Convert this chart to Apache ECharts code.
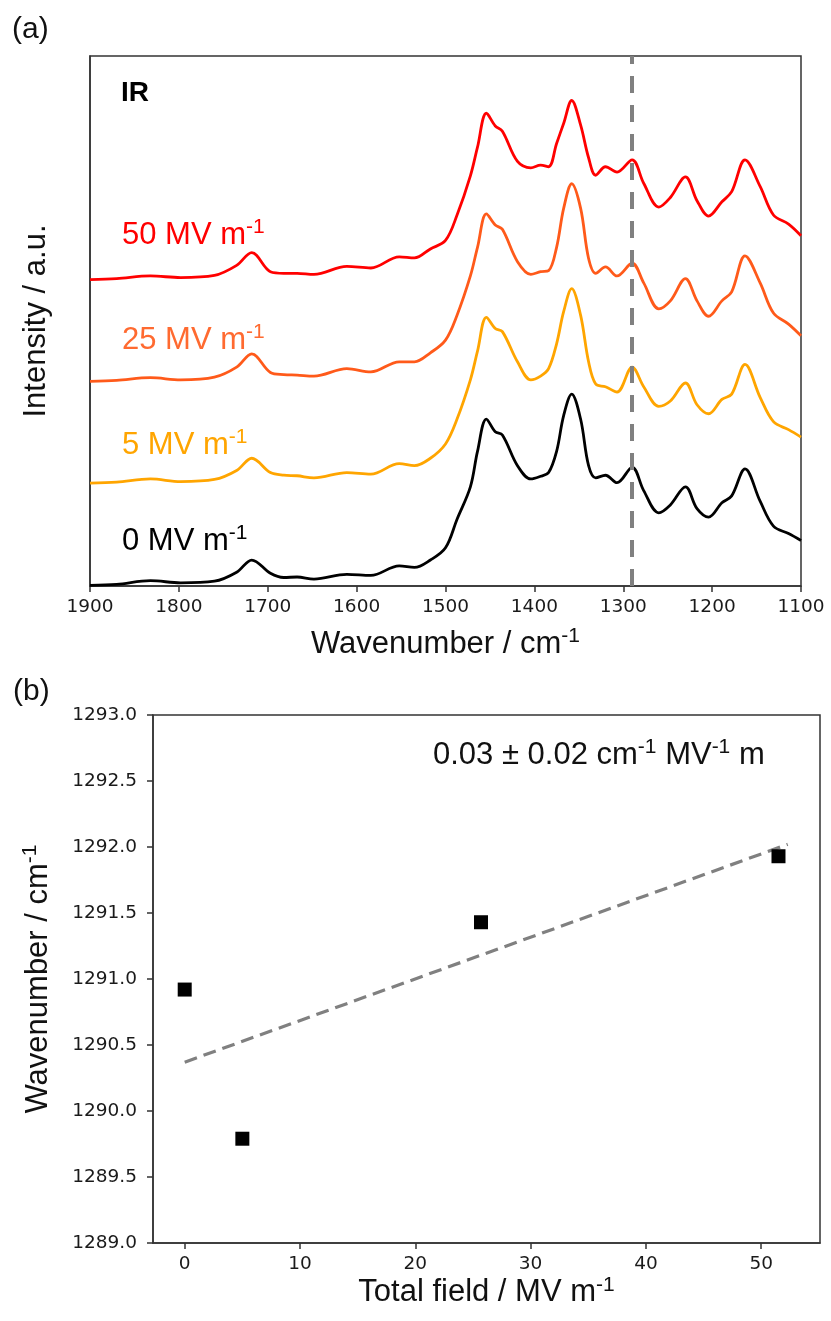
<!DOCTYPE html>
<html><head><meta charset="utf-8">
<script src="https://cdn.jsdelivr.net/npm/echarts@6/dist/echarts.min.js"></script>
<style>html,body{margin:0;padding:0;background:#fff}#c{width:831px;height:1321px}</style>
</head><body><div id="c"></div>
<script>
// ---- Panel (a): IR spectra (arbitrary intensity units, curves offset) ----
const wavenumber = [1900,1870,1832,1798,1760,1735,1718,1697,1682,1667,1648,1611,1584,1552,1535,1517,1500,1487,1472,1464,1454,1444,1436,1419,1404,1393,1384,1375,1367,1358,1348,1339,1331,1320,1307,1290,1277,1260,1247,1230,1217,1204,1189,1178,1163,1146,1131,1114,1100];
const ir0MV  = [0.13,0.3,1.0,0.6,0.9,2.6,4.9,2.4,1.6,1.7,1.3,2.2,2.0,3.8,3.5,4.9,7.2,12.6,18.7,25.4,31.5,29.1,28.5,22.7,20.2,20.7,21.4,25.4,32.2,36.2,31.5,22.7,20.4,20.9,19.5,22.4,18.0,13.8,15.3,18.7,14.6,13.0,15.7,17.0,22.1,16.0,11.3,9.9,8.6];
const ir5MV  = [19.4,19.6,20.2,19.7,20.1,21.8,24.1,21.4,20.9,20.8,20.4,21.4,21.1,23.1,22.7,24.1,26.8,31.5,38.9,44.3,50.7,48.6,48.0,42.3,38.9,39.6,41.0,45.7,51.8,56.1,51.1,42.3,38.1,37.6,36.6,41.3,37.6,33.9,34.9,38.3,34.2,32.5,35.2,36.2,41.8,35.6,31.0,29.5,28.1];
const ir25MV = [38.6,38.8,39.3,38.9,39.4,41.3,43.8,40.3,39.9,39.8,39.6,41.0,40.4,42.3,42.3,44.0,46.4,51.1,58.5,63.9,70.2,68.1,67.3,61.2,58.8,59.3,59.5,63.9,71.3,75.9,71.3,61.8,59.0,60.2,58.5,60.9,57.2,52.3,53.8,58.0,53.8,50.9,53.8,55.5,62.3,57.2,51.5,49.4,47.2];
const ir50MV = [57.8,58.0,58.5,58.2,58.6,60.5,62.9,59.3,59.0,59.0,58.8,60.3,60.0,62.1,61.9,63.6,65.2,70.0,77.4,82.8,89.2,86.8,85.8,80.1,78.9,79.4,79.1,83.5,87.3,91.6,87.0,80.8,77.5,79.1,78.1,80.4,76.0,71.5,73.3,77.2,72.7,69.8,72.5,74.4,80.4,75.4,70.0,68.3,66.1];
const curveNames  = ['0 MV m', '5 MV m', '25 MV m', '50 MV m'];
const curveColors = ['#000000', '#ffa500', '#ff5a1a', '#ff0000'];
const labelColors = ['#000000', '#ffa500', '#ff6a30', '#ff0000'];
const markerWavenumber = 1290;

// ---- Panel (b): peak position vs total field ----
const totalField     = [0, 5.0, 25.7, 51.5];
const peakWavenumber = [1290.92, 1289.79, 1291.43, 1291.93];
const fitField       = [0, 52.3];
const fitWavenumber  = [1290.37, 1292.02];
const fieldTicks     = [0, 10, 20, 30, 40, 50];

const SANS = '"Liberation Sans", Arial, sans-serif';
const DV = '"DejaVu Sans", sans-serif';
const AXIS = '#333333';
const BIG = 31;
const SUP = 21;

function supRich(color, size) {
  return { sup: { fontSize: size || SUP, fontFamily: SANS, color: color, fill: color, verticalAlign: 'top', lineHeight: 18 } };
}

const spectra = [ir0MV, ir5MV, ir25MV, ir50MV];
const chart = echarts.init(document.getElementById('c'), null, { renderer: 'canvas' });

const series = spectra.map((arr, k) => ({
  type: 'line', xAxisIndex: 0, yAxisIndex: 0, name: curveNames[k],
  data: wavenumber.map((w, i) => [w, arr[i]]),
  showSymbol: false, smooth: 0.35,
  lineStyle: { color: curveColors[k], width: 2.8 },
  itemStyle: { color: curveColors[k] },
  z: 2 + k
}));
series[3].markLine = {
  silent: true, symbol: 'none', z: 20, animation: false,
  label: { show: false },
  lineStyle: { color: '#808080', width: 4, type: [17, 12] },
  data: [{ xAxis: markerWavenumber }]
};
series.push({
  type: 'line', xAxisIndex: 1, yAxisIndex: 1,
  data: fitField.map((x, i) => [x, fitWavenumber[i]]),
  showSymbol: false,
  lineStyle: { color: '#808080', width: 3.2, type: [13, 7] }, z: 2
});
series.push({
  type: 'scatter', xAxisIndex: 1, yAxisIndex: 1,
  data: totalField.map((x, i) => [x, peakWavenumber[i]]),
  symbol: 'rect', symbolSize: 14, itemStyle: { color: '#000', opacity: 1 }, z: 5
});

const labelY = [541, 445, 340, 235];
const graphics = [
  { type: 'text', x: 12, y: 30, style: { text: '(a)', font: '30px ' + SANS, fill: '#111', verticalAlign: 'middle' } },
  { type: 'text', x: 13, y: 692, style: { text: '(b)', font: '30px ' + SANS, fill: '#111', verticalAlign: 'middle' } },
  { type: 'text', x: 121, y: 93, style: { text: 'IR', font: 'bold 28px ' + SANS, fill: '#000', verticalAlign: 'middle' } },
  { type: 'text', x: 433, y: 755, style: { text: '0.03 ± 0.02 cm{sup|-1} MV{sup|-1} m', font: BIG + 'px ' + SANS, fill: '#111', lineHeight: 36, verticalAlign: 'middle', rich: supRich('#111', SUP) } }
];
curveNames.forEach((n, k) => {
  graphics.push({ type: 'text', x: 122, y: labelY[k], style: { text: n + '{sup|-1}', font: BIG + 'px ' + SANS, fill: labelColors[k], lineHeight: 36, verticalAlign: 'middle', rich: supRich(labelColors[k], SUP) } });
});

const axisLineStyle = { show: true, onZero: false, lineStyle: { color: AXIS, width: 1.5 } };
const tickStyle = { show: true, length: 6, inside: false, lineStyle: { color: AXIS, width: 1.5 } };
const tickFont = { fontFamily: DV, fontSize: 18.5, color: '#1a1a1a' };

chart.setOption({
  animation: false,
  backgroundColor: '#ffffff',
  grid: [
    { left: 90, top: 56, width: 711, height: 530, show: true, borderColor: AXIS, borderWidth: 1.5, backgroundColor: 'transparent' },
    { left: 153, top: 715, width: 667, height: 528, show: true, borderColor: AXIS, borderWidth: 1.5, backgroundColor: 'transparent' }
  ],
  xAxis: [
    {
      gridIndex: 0, type: 'value', inverse: true, min: 1100, max: 1900, interval: 100,
      axisLine: axisLineStyle, axisTick: tickStyle, splitLine: { show: false },
      axisLabel: Object.assign({ margin: 12, formatter: v => String(v) }, tickFont),
      name: 'Wavenumber / cm{sup|-1}', nameLocation: 'middle', nameGap: 40,
      nameTextStyle: { fontFamily: SANS, fontSize: BIG, color: '#111', lineHeight: 36, rich: supRich('#111', SUP) }
    },
    {
      gridIndex: 1, type: 'value', min: -2.75, max: 55.1,
      axisLine: axisLineStyle, splitLine: { show: false },
      axisTick: Object.assign({}, tickStyle, { customValues: fieldTicks }),
      axisLabel: Object.assign({ margin: 12, customValues: fieldTicks, formatter: v => String(v) }, tickFont),
      name: 'Total field / MV m{sup|-1}', nameLocation: 'middle', nameGap: 31,
      nameTextStyle: { fontFamily: SANS, fontSize: BIG, color: '#111', lineHeight: 36, rich: supRich('#111', SUP) }
    }
  ],
  yAxis: [
    {
      gridIndex: 0, type: 'value', min: 0, max: 100,
      axisLine: axisLineStyle, splitLine: { show: false },
      axisTick: { show: false }, axisLabel: { show: false },
      name: 'Intensity / a.u.', nameLocation: 'middle', nameRotate: 90, nameGap: 38,
      nameTextStyle: { fontFamily: SANS, fontSize: BIG, color: '#111' }
    },
    {
      gridIndex: 1, type: 'value', min: 1289, max: 1293, interval: 0.5,
      axisLine: axisLineStyle, axisTick: tickStyle, splitLine: { show: false },
      axisLabel: Object.assign({ margin: 16, formatter: v => v.toFixed(1) }, tickFont),
      name: 'Wavenumber / cm{sup|-1}', nameLocation: 'middle', nameRotate: 90, nameGap: 97,
      nameTextStyle: { fontFamily: SANS, fontSize: BIG, color: '#111', lineHeight: 36, rich: supRich('#111', SUP) }
    }
  ],
  series: series,
  graphic: graphics
});
</script></body></html>
